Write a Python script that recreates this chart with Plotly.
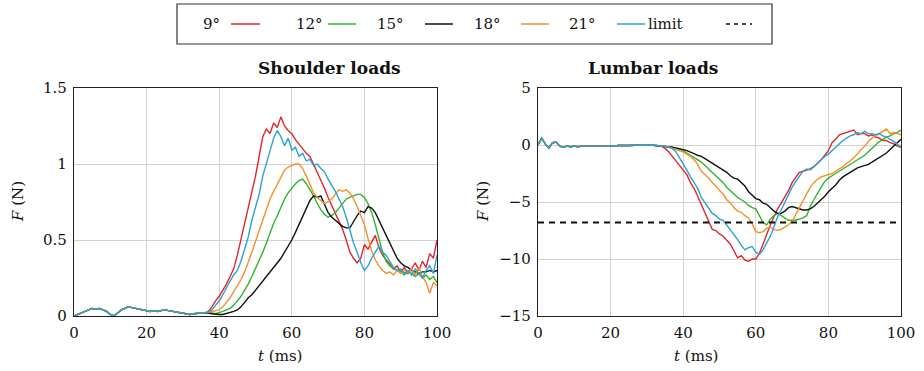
import plotly.graph_objects as go
from plotly.subplots import make_subplots

# ---------------------------------------------------------------- data
T_MS = list(range(101))  # time samples, 1 ms apart

SERIES_LABELS = ["9°", "12°", "15°", "18°", "21°"]
SERIES_COLORS = ["#e2262b", "#2fb52f", "#111111", "#f5902a", "#2ba3d6"]

# shoulder force, common part t = 0..35 ms
SHOULDER_PRE = [0.00, 0.01, 0.02, 0.03, 0.045, 0.05, 0.045, 0.05, 0.04, 0.03,
                0.01, 0.00, 0.02, 0.04, 0.05, 0.06, 0.055, 0.05, 0.045, 0.04,
                0.035, 0.03, 0.035, 0.03, 0.035, 0.04, 0.035, 0.03, 0.03, 0.025,
                0.02, 0.015, 0.01, 0.015, 0.02, 0.02]

# shoulder force, t = 36..100 ms
SHOULDER_9 = [0.02, 0.03, 0.06, 0.10, 0.13, 0.17, 0.21, 0.26, 0.31, 0.40,
              0.50, 0.60, 0.72, 0.80, 0.92, 1.05, 1.18, 1.23, 1.20, 1.27,
              1.24, 1.31, 1.25, 1.22, 1.20, 1.16, 1.13, 1.10, 1.07, 1.05,
              1.00, 0.95, 0.90, 0.84, 0.78, 0.73, 0.68, 0.62, 0.57, 0.50,
              0.42, 0.38, 0.35, 0.38, 0.47, 0.44, 0.49, 0.53, 0.45, 0.40,
              0.37, 0.34, 0.31, 0.33, 0.29, 0.32, 0.28, 0.31, 0.35, 0.30,
              0.36, 0.32, 0.41, 0.38, 0.50]
SHOULDER_12 = [0.02, 0.02, 0.02, 0.015, 0.02, 0.03, 0.04, 0.05, 0.07, 0.10,
               0.13, 0.17, 0.21, 0.26, 0.31, 0.37, 0.42, 0.48, 0.55, 0.61,
               0.66, 0.72, 0.77, 0.81, 0.84, 0.87, 0.89, 0.90, 0.87, 0.83,
               0.79, 0.74, 0.70, 0.67, 0.65, 0.66, 0.68, 0.71, 0.74, 0.77,
               0.78, 0.79, 0.80, 0.80, 0.78, 0.74, 0.68, 0.60, 0.50, 0.42,
               0.36, 0.33, 0.31, 0.30, 0.29, 0.27, 0.29, 0.28, 0.26, 0.28,
               0.25, 0.27, 0.24, 0.26, 0.22]
SHOULDER_15 = [0.02, 0.02, 0.015, 0.01, 0.01, 0.01, 0.015, 0.02, 0.03, 0.04,
               0.06, 0.09, 0.12, 0.14, 0.17, 0.20, 0.23, 0.26, 0.29, 0.32,
               0.35, 0.38, 0.42, 0.46, 0.50, 0.55, 0.60, 0.66, 0.71, 0.76,
               0.79, 0.78, 0.79, 0.73, 0.68, 0.65, 0.63, 0.61, 0.59, 0.58,
               0.58, 0.62, 0.66, 0.69, 0.68, 0.72, 0.71, 0.68, 0.63, 0.58,
               0.52, 0.47, 0.42, 0.38, 0.35, 0.33, 0.32, 0.30, 0.29, 0.28,
               0.29, 0.29, 0.30, 0.29, 0.30]
SHOULDER_18 = [0.02, 0.025, 0.03, 0.03, 0.04, 0.06, 0.09, 0.12, 0.16, 0.20,
               0.24, 0.29, 0.35, 0.42, 0.49, 0.56, 0.63, 0.70, 0.77, 0.82,
               0.87, 0.92, 0.96, 0.98, 0.99, 1.00, 1.00, 0.97, 0.92, 0.86,
               0.81, 0.78, 0.76, 0.74, 0.75, 0.77, 0.80, 0.83, 0.82, 0.83,
               0.81, 0.77, 0.72, 0.66, 0.60, 0.51, 0.43, 0.37, 0.33, 0.30,
               0.28, 0.29, 0.27, 0.30, 0.28, 0.30, 0.29, 0.31, 0.27, 0.32,
               0.26, 0.22, 0.15, 0.22, 0.20]
SHOULDER_21 = [0.02, 0.03, 0.04, 0.07, 0.10, 0.14, 0.19, 0.23, 0.27, 0.30,
               0.36, 0.44, 0.52, 0.63, 0.72, 0.80, 0.92, 1.00, 1.09, 1.17,
               1.22, 1.18, 1.12, 1.17, 1.09, 1.11, 1.05, 1.07, 1.02, 1.03,
               0.99, 1.00, 0.97, 0.95, 0.90, 0.86, 0.82, 0.77, 0.72, 0.65,
               0.57, 0.48, 0.42, 0.35, 0.30, 0.33, 0.38, 0.42, 0.46, 0.42,
               0.40, 0.36, 0.32, 0.30, 0.31, 0.28, 0.30, 0.27, 0.31, 0.28,
               0.25, 0.30, 0.33, 0.28, 0.40]

# lumbar force, common part t = 0..33 ms
LUMBAR_PRE = [0.0, 0.6, 0.1, -0.25, 0.2, 0.25, -0.1, -0.2, -0.1, -0.15,
              -0.1, -0.15, -0.1, -0.1, -0.15, -0.1, -0.1, -0.15, -0.1, -0.1,
              -0.1, -0.1, -0.05, -0.08, -0.05, -0.05, -0.03, -0.02, 0.0, 0.0,
              0.02, 0.0, -0.03, -0.05]

# lumbar force, t = 34..100 ms
LUMBAR_9 = [-0.1, -0.3, -0.6, -1.0, -1.4, -1.8, -2.2, -2.6, -3.3, -3.8,
            -4.5, -5.2, -6.0, -6.6, -7.4, -7.5, -7.8, -8.0, -8.4, -8.7,
            -9.3, -9.9, -9.7, -10.1, -10.2, -10.0, -10.0, -9.5, -8.7, -7.8,
            -7.0, -6.3, -5.6, -5.1, -4.6, -4.0, -3.3, -2.9, -2.4, -2.3,
            -2.2, -2.1, -1.9, -1.6, -1.3, -0.9, -0.5, 0.2, 0.5, 0.9,
            1.0, 1.1, 1.2, 1.3, 0.9, 1.0, 1.0, 0.8, 0.9, 0.7,
            0.6, 0.4, 0.4, 0.2, 0.1, -0.1, -0.2]
LUMBAR_12 = [-0.05, -0.1, -0.15, -0.2, -0.3, -0.4, -0.5, -0.7, -0.9, -1.1,
             -1.3, -1.5, -1.8, -2.1, -2.4, -2.7, -3.0, -3.3, -3.7, -4.0,
             -4.3, -4.6, -4.8, -5.0, -5.3, -5.5, -5.6, -6.2, -6.8, -7.0,
             -6.5, -6.2, -6.0, -6.2, -6.4, -6.6, -6.6, -6.6, -6.5, -6.4,
             -6.2, -5.4, -4.8, -4.2, -3.7, -3.2, -2.9, -2.7, -2.5, -2.3,
             -2.1, -1.9, -1.7, -1.5, -1.3, -1.1, -0.9, -0.6, -0.3, 0.0,
             0.3, 0.5, 0.7, 0.8, 1.0, 1.1, 1.3]
LUMBAR_15 = [-0.05, -0.1, -0.15, -0.2, -0.25, -0.3, -0.4, -0.5, -0.6, -0.75,
             -0.9, -1.0, -1.2, -1.4, -1.6, -1.8, -2.0, -2.2, -2.4, -2.7,
             -2.9, -3.0, -3.3, -3.6, -4.1, -4.4, -4.7, -4.8, -5.1, -5.2,
             -5.5, -5.8, -6.0, -6.0, -5.8, -5.5, -5.4, -5.5, -5.6, -5.7,
             -5.7, -5.6, -5.4, -5.1, -4.8, -4.5, -4.1, -3.8, -3.5, -3.1,
             -2.8, -2.6, -2.4, -2.2, -2.0, -1.9, -1.8, -1.7, -1.5, -1.3,
             -1.1, -0.9, -0.7, -0.4, -0.1, 0.2, 0.5]
LUMBAR_18 = [-0.05, -0.1, -0.2, -0.3, -0.4, -0.5, -0.6, -0.8, -1.0, -1.3,
             -1.7, -2.3, -2.6, -2.9, -3.3, -3.6, -4.0, -4.3, -4.8, -5.1,
             -5.5, -5.8, -5.9, -6.2, -6.4, -6.9, -7.6, -7.7, -7.6, -7.3,
             -7.2, -7.4, -7.5, -7.4, -7.2, -7.0, -6.7, -6.1, -5.4, -4.8,
             -4.2, -3.7, -3.3, -3.0, -2.8, -2.7, -2.6, -2.5, -2.3, -2.1,
             -1.9, -1.6, -1.4, -1.1, -0.8, -0.4, -0.1, 0.3, 0.6, 0.8,
             1.0, 1.2, 1.4, 1.0, 1.1, 1.0, 0.9]
LUMBAR_21 = [-0.05, -0.1, -0.2, -0.3, -0.6, -1.1, -1.6, -2.2, -2.8, -3.3,
             -3.8, -4.6, -5.1, -5.5, -6.0, -6.2, -6.5, -6.6, -7.0, -7.5,
             -7.9, -8.3, -8.8, -9.2, -9.0, -8.9, -9.4, -9.6, -9.2, -8.6,
             -8.0, -7.2, -6.3, -5.7, -5.0, -4.3, -3.7, -3.2, -2.7, -2.3,
             -2.1, -2.2, -1.9, -1.6, -1.3, -1.0, -0.8, -0.5, -0.2, 0.1,
             0.4, 0.6, 0.8, 0.9, 1.1, 1.0, 1.2, 1.0, 1.0, 0.9,
             1.0, 0.8, 0.7, 0.5, 0.3, 0.1, -0.2]

LIMIT_LABEL = "limit"
LIMIT_N = -6.8  # lumbar load limit (N)

X_TICKS = [0, 20, 40, 60, 80, 100]
SHOULDER_TICKS = [0, 0.5, 1, 1.5]
SHOULDER_TICKTEXT = ["0", "0.5", "1", "1.5"]
LUMBAR_TICKS = [-15, -10, -5, 0, 5]
LUMBAR_TICKTEXT = ["\u221215", "\u221210", "\u22125", "0", "5"]

PANEL_TITLES = ["Shoulder loads", "Lumbar loads"]

shoulder = [SHOULDER_9, SHOULDER_12, SHOULDER_15, SHOULDER_18, SHOULDER_21]
lumbar = [LUMBAR_9, LUMBAR_12, LUMBAR_15, LUMBAR_18, LUMBAR_21]

# ---------------------------------------------------------------- figure
W, H = 924, 371
FONT = "DejaVu Serif"
FS = 15
INK = "#111111"


def px(x):
    return x / W


def py(y):
    return 1 - y / H


fig = make_subplots(rows=1, cols=2)

# the blue curve goes last so it sits on top of the shared early section
for i in range(len(SERIES_LABELS)):
    fig.add_trace(go.Scatter(x=T_MS, y=SHOULDER_PRE + shoulder[i], mode="lines",
                             line=dict(color=SERIES_COLORS[i], width=1.4),
                             name=SERIES_LABELS[i], showlegend=False),
                  row=1, col=1)
for i in range(len(SERIES_LABELS)):
    fig.add_trace(go.Scatter(x=T_MS, y=LUMBAR_PRE + lumbar[i], mode="lines",
                             line=dict(color=SERIES_COLORS[i], width=1.4),
                             name=SERIES_LABELS[i], showlegend=False),
                  row=1, col=2)
fig.add_trace(go.Scatter(x=[X_TICKS[0], X_TICKS[-1]], y=[LIMIT_N, LIMIT_N],
                         mode="lines", line=dict(color=INK, width=2, dash="6px,5px"),
                         name=LIMIT_LABEL, showlegend=False),
              row=1, col=2)

axis_common = dict(showline=True, linecolor="#222222", linewidth=1.2, mirror=True,
                   showgrid=True, gridcolor="#d2d2d2", gridwidth=1, zeroline=False,
                   ticks="", automargin=False,
                   tickfont=dict(family=FONT, size=FS, color=INK))

fig.update_xaxes(range=[0, 100], tickvals=X_TICKS, ticklabelstandoff=3, **axis_common)
fig.update_yaxes(ticklabelstandoff=3)
fig.update_layout(
    xaxis=dict(domain=[px(74), px(437)]),
    xaxis2=dict(domain=[px(538), px(901)]),
    yaxis=dict(domain=[py(316), py(88)], range=[0, 1.5],
               tickvals=SHOULDER_TICKS, ticktext=SHOULDER_TICKTEXT, **axis_common),
    yaxis2=dict(domain=[py(316), py(88)], range=[-15, 5],
                tickvals=LUMBAR_TICKS, ticktext=LUMBAR_TICKTEXT, **axis_common),
)

annotations = []
for cx, title in zip([255.5, 719.5], PANEL_TITLES):
    annotations.append(dict(x=px(cx), y=py(68), xref="paper", yref="paper",
                            yanchor="middle", text=f"<b>{title}</b>", showarrow=False,
                            font=dict(family=FONT, size=17, color=INK)))
    annotations.append(dict(x=px(cx), y=py(356), xref="paper", yref="paper",
                            yanchor="middle", text="<i>t</i> (ms)", showarrow=False,
                            font=dict(family=FONT, size=FS, color=INK)))
for lx in [18, 483]:
    annotations.append(dict(x=px(lx), y=py(202), xref="paper", yref="paper",
                            xanchor="center", yanchor="middle",
                            text="<i>F</i> (N)", showarrow=False, textangle=-90,
                            font=dict(family=FONT, size=FS, color=INK)))

# legend: each label followed by its line sample, in one framed row
shapes = [dict(type="rect", xref="paper", yref="paper",
               x0=px(177), x1=px(772), y0=py(44), y1=py(4),
               line=dict(color="#333333", width=1.2), fillcolor="white", layer="above")]
legend_labels = SERIES_LABELS + [LIMIT_LABEL]
label_centers = [201, 294, 390, 487, 582, 685]
sample_spans = [(231, 260), (328, 356), (425, 453), (521, 549), (617, 645), (726, 752)]
for k, lab in enumerate(legend_labels):
    annotations.append(dict(x=px(label_centers[k]), y=py(24), xref="paper", yref="paper",
                            yanchor="middle", text=lab, showarrow=False,
                            font=dict(family=FONT, size=FS, color=INK)))
    a, b = sample_spans[k]
    if k < len(SERIES_COLORS):
        line = dict(color=SERIES_COLORS[k], width=1.5)
    else:
        line = dict(color=INK, width=1.5, dash="4px,4px")
    shapes.append(dict(type="line", xref="paper", yref="paper",
                       x0=px(a), x1=px(b), y0=py(24), y1=py(24), line=line))

fig.update_layout(width=W, height=H, margin=dict(l=0, r=0, t=0, b=0, autoexpand=False),
                  paper_bgcolor="white", plot_bgcolor="white",
                  annotations=annotations, shapes=shapes, showlegend=False,
                  font=dict(family=FONT, size=FS, color=INK))

fig.write_html("out.html")
